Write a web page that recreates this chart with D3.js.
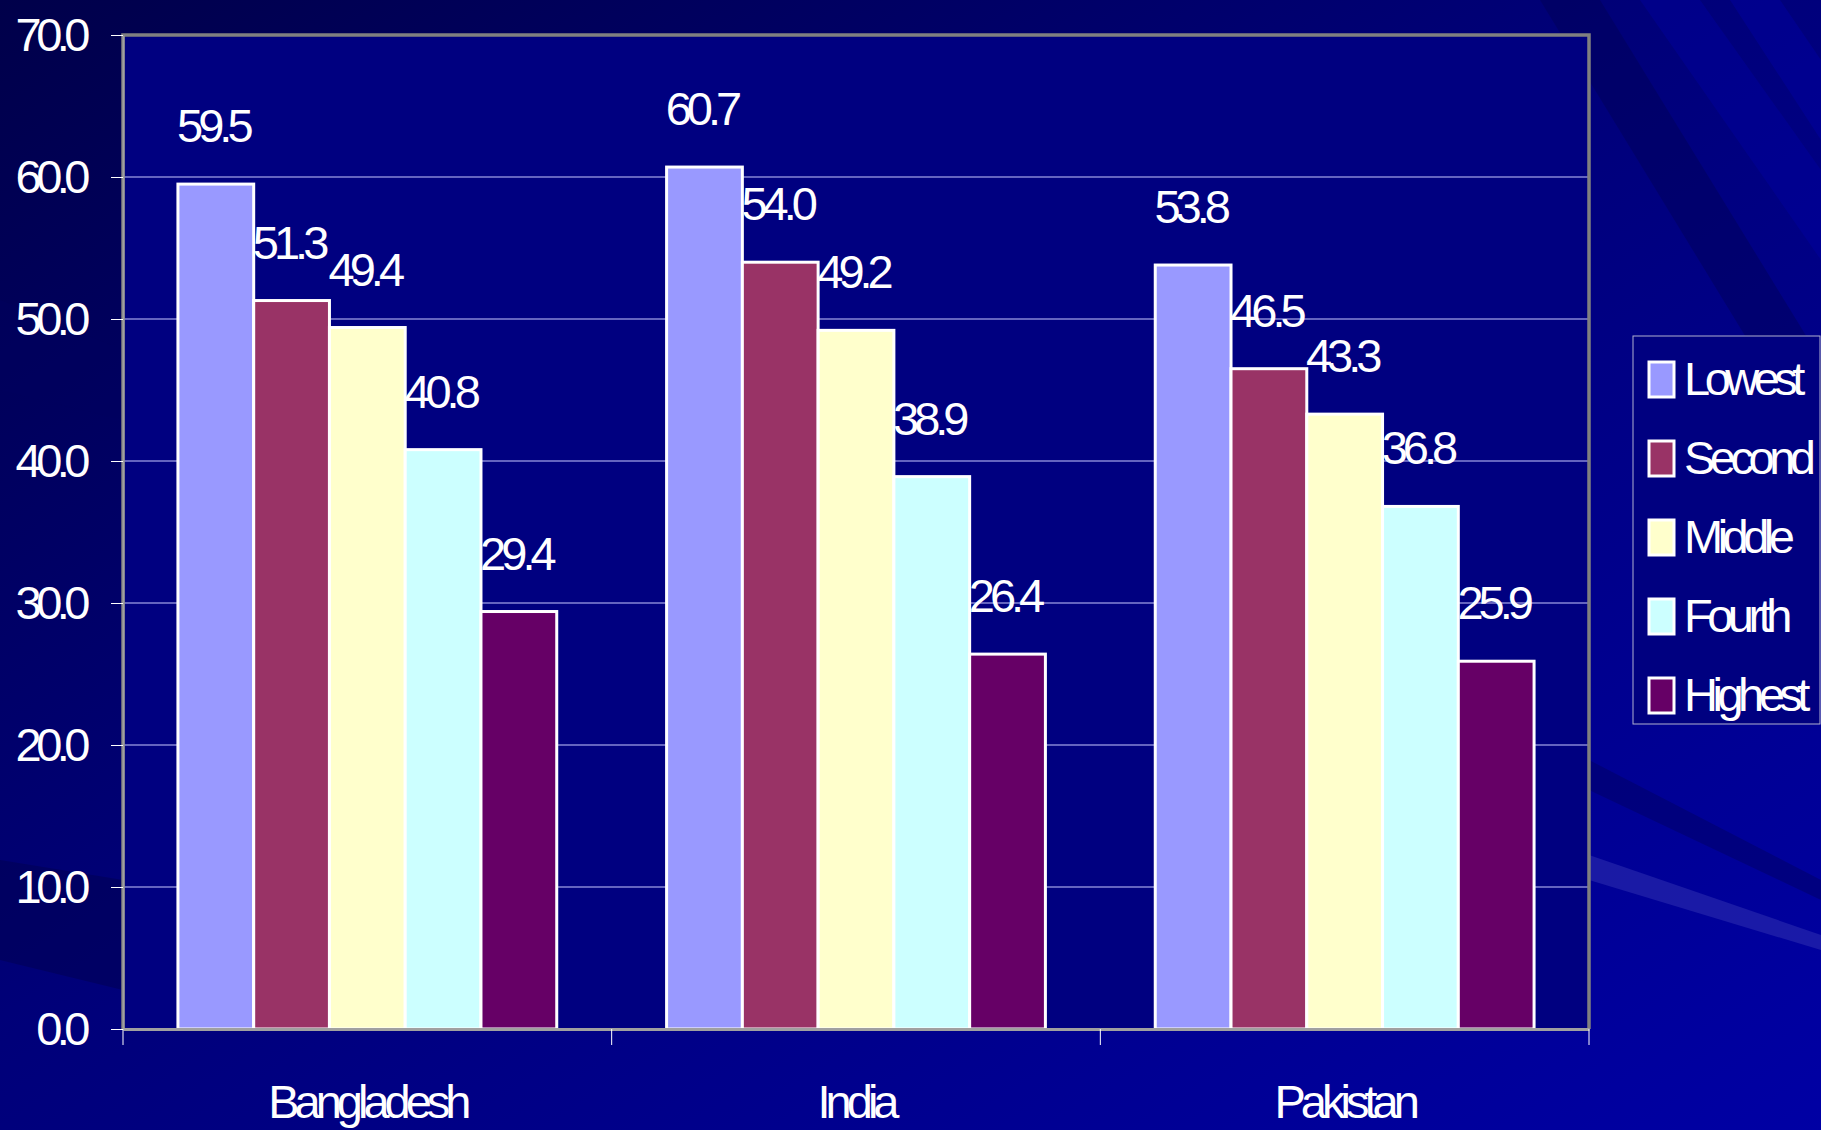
<!DOCTYPE html>
<html>
<head>
<meta charset="utf-8">
<script src="https://cdn.jsdelivr.net/npm/d3@7"></script>
<style>
  body { margin: 0; background: #000070; }
  svg { display: block; }
  text { font-family: 'Liberation Sans', Arial, sans-serif; fill: #fff; }
</style>
</head>
<body>
<div id="chart"></div>
<script>
// chart data
const categories = ['Bangladesh', 'India', 'Pakistan'];
const seriesNames = ['Lowest', 'Second', 'Middle', 'Fourth', 'Highest'];
const lowest = [59.5, 60.7, 53.8];
const second = [51.3, 54.0, 46.5];
const middle = [49.4, 49.2, 43.3];
const fourth = [40.8, 38.9, 36.8];
const highest = [29.4, 26.4, 25.9];
const yTicks = [0, 10, 20, 30, 40, 50, 60, 70];

const seriesValues = [lowest, second, middle, fourth, highest];
const colors = ['#9999ff', '#993366', '#ffffcc', '#ccffff', '#660066'];

const W = 1821, H = 1130;
const plot = { left: 123, top: 35, right: 1589, bottom: 1029 };

const svg = d3.select('#chart').append('svg')
    .attr('width', W)
    .attr('height', H);

// slide background
const defs = svg.append('defs');
const bg = defs.append('linearGradient')
    .attr('id', 'bg')
    .attr('x1', 0).attr('y1', 0).attr('x2', 1).attr('y2', 1);
bg.append('stop').attr('offset', 0).attr('stop-color', '#00004a');
bg.append('stop').attr('offset', 0.45).attr('stop-color', '#000078');
bg.append('stop').attr('offset', 1).attr('stop-color', '#0000a4');
svg.append('rect').attr('width', W).attr('height', H).attr('fill', 'url(#bg)');

// diagonal streaks
const streaks = [
    { pts: [[1540, 0], [1600, 0], [1821, 360], [1821, 460]], fill: '#000050', op: 0.4 },
    { pts: [[1640, 0], [1700, 0], [1821, 170], [1821, 260]], fill: '#0000a8', op: 0.35 },
    { pts: [[1730, 0], [1780, 0], [1821, 60], [1821, 140]], fill: '#0000b0', op: 0.35 },
    { pts: [[1589, 855], [1821, 935], [1821, 950], [1589, 880]], fill: '#3030b0', op: 0.55 },
    { pts: [[1589, 760], [1821, 880], [1821, 900], [1589, 790]], fill: '#000060', op: 0.45 },
    { pts: [[0, 300], [123, 350], [123, 420], [0, 390]], fill: '#000060', op: 0.4 },
    { pts: [[0, 860], [123, 880], [123, 990], [0, 960]], fill: '#000050', op: 0.5 }
];
svg.append('g').selectAll('polygon')
    .data(streaks)
    .join('polygon')
    .attr('points', d => d.pts.map(p => p.join(',')).join(' '))
    .attr('fill', d => d.fill)
    .attr('opacity', d => d.op);

// scales
const x = d3.scaleBand().domain(categories).range([plot.left, plot.right]);
const xs = d3.scaleBand().domain(seriesNames).range([0, x.bandwidth()]).paddingOuter(0.725);
const y = d3.scaleLinear().domain([0, 70]).range([plot.bottom, plot.top]);

// plot area
svg.append('rect')
    .attr('x', plot.left).attr('y', plot.top)
    .attr('width', plot.right - plot.left).attr('height', plot.bottom - plot.top)
    .attr('fill', '#000080');

// gridlines
svg.append('g').selectAll('line')
    .data(yTicks.slice(1, -1))
    .join('line')
    .attr('x1', plot.left).attr('x2', plot.right)
    .attr('y1', d => y(d)).attr('y2', d => y(d))
    .attr('stroke', '#c8c8ff').attr('stroke-width', 1);

// bars
const groups = svg.append('g').selectAll('g')
    .data(seriesNames)
    .join('g')
    .attr('fill', (d, i) => colors[i]);

groups.selectAll('rect')
    .data((s, i) => categories.map((c, j) => ({ cat: c, s, v: seriesValues[i][j] })))
    .join('rect')
    .attr('x', d => x(d.cat) + xs(d.s))
    .attr('y', d => y(d.v))
    .attr('width', xs.bandwidth())
    .attr('height', d => y(0) - y(d.v))
    .attr('stroke', '#fff')
    .attr('stroke-width', 3);

// data labels
groups.selectAll('text')
    .data((s, i) => categories.map((c, j) => ({ cat: c, s, v: seriesValues[i][j] })))
    .join('text')
    .attr('x', d => x(d.cat) + xs(d.s) + xs.bandwidth() / 2 - 3)
    .attr('y', d => y(d.v) - 42)
    .attr('text-anchor', 'middle')
    .style('font-size', '47px')
    .style('letter-spacing', '-5px')
    .style('fill', '#fff')
    .text(d => d.v.toFixed(1));

// plot border (top / right / left)
svg.append('path')
    .attr('d', `M${plot.left},${plot.bottom} V${plot.top} H${plot.right} V${plot.bottom}`)
    .attr('fill', 'none')
    .attr('stroke', '#808080')
    .attr('stroke-width', 3.5);

// y axis
const yAxis = svg.append('g')
    .attr('transform', `translate(${plot.left},0)`)
    .call(d3.axisLeft(y).tickValues(yTicks).tickFormat(d3.format('.1f')).tickSizeInner(12).tickSizeOuter(0).tickPadding(26));
yAxis.select('.domain').attr('stroke', '#a0a0a0').attr('stroke-width', 2);
yAxis.selectAll('.tick line').attr('stroke', '#fff');
yAxis.selectAll('.tick text')
    .style('font-size', '47px')
    .style('letter-spacing', '-5.5px')
    .style('font-family', "'Liberation Sans', Arial, sans-serif")
    .attr('fill', '#fff');

// x axis
const xAxis = svg.append('g')
    .attr('transform', `translate(0,${plot.bottom})`)
    .call(d3.axisBottom(x).tickSize(0).tickPadding(56));
xAxis.select('.domain').attr('stroke', '#a0a0a0').attr('stroke-width', 3);
xAxis.selectAll('.tick text')
    .style('font-size', '47px')
    .style('letter-spacing', '-5px')
    .style('font-family', "'Liberation Sans', Arial, sans-serif")
    .attr('fill', '#fff');
xAxis.append('g').selectAll('line')
    .data(categories.map(c => x(c)).concat([x.range()[1]]))
    .join('line')
    .attr('x1', d => d).attr('x2', d => d)
    .attr('y1', 0).attr('y2', 16)
    .attr('stroke', '#fff');

// legend
const legend = svg.append('g').attr('transform', 'translate(1633,336)');
legend.append('rect')
    .attr('width', 187).attr('height', 388)
    .attr('fill', '#000080')
    .attr('stroke', '#b0b0d0').attr('stroke-width', 1);
const item = legend.selectAll('g.item')
    .data(seriesNames)
    .join('g')
    .attr('class', 'item')
    .attr('transform', (d, i) => `translate(0,${42 + i * 79})`);
item.append('rect')
    .attr('x', 16).attr('y', -16)
    .attr('width', 25).attr('height', 35)
    .attr('fill', (d, i) => colors[i])
    .attr('stroke', '#fff').attr('stroke-width', 3);
item.append('text')
    .attr('x', 51).attr('y', 17)
    .style('font-size', '47px')
    .style('letter-spacing', '-5.5px')
    .text(d => d);
</script>
</body>
</html>
